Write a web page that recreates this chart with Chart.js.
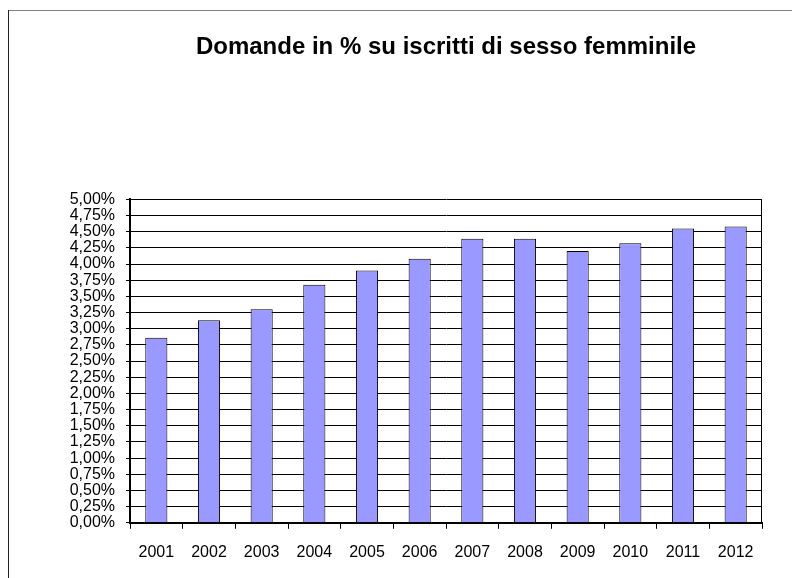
<!DOCTYPE html>
<html>
<head>
<meta charset="utf-8">
<title>Domande in % su iscritti di sesso femminile</title>
<script src="https://cdn.jsdelivr.net/npm/chart.js@4/dist/chart.umd.min.js"></script>
<style>
    body { margin: 0; background: #fff; }
    #chart { display: block; }
</style>
</head>
<body>
<canvas id="chart" width="792" height="578"></canvas>
<script>
const TITLE = "Domande in % su iscritti di sesso femminile";
const years = ["2001", "2002", "2003", "2004", "2005", "2006", "2007", "2008", "2009", "2010", "2011", "2012"];
const domande = [2.86, 3.13, 3.30, 3.68, 3.90, 4.08, 4.39, 4.39, 4.20, 4.32, 4.55, 4.58]; // % values
const yMin = 0;
const yMax = 5;
const yStep = 0.25;

// outer frame of the excel chart + right edge of the plot area
const framePlugin = {
    id: "frame",
    afterDraw(chart) {
        const ctx = chart.ctx;
        const area = chart.chartArea;
        ctx.save();
        ctx.lineWidth = 1;
        ctx.strokeStyle = "#808080";
        ctx.beginPath();
        ctx.moveTo(8, 10.5);
        ctx.lineTo(chart.width, 10.5);
        ctx.stroke();
        ctx.strokeStyle = "#222";
        ctx.beginPath();
        ctx.moveTo(8.5, 10);
        ctx.lineTo(8.5, chart.height);
        ctx.stroke();
        ctx.strokeStyle = "#000";
        ctx.beginPath();
        ctx.moveTo(area.right - 0.5, area.top);
        ctx.lineTo(area.right - 0.5, area.bottom);
        ctx.stroke();
        ctx.restore();
    }
};

function formatPct(v) {
    return v.toFixed(2).replace(".", ",") + "%";
}

function initChart() {
    const ctx = document.getElementById("chart").getContext("2d");
    new Chart(ctx, {
        type: "bar",
        data: {
            labels: years,
            datasets: [{
                label: "Domande",
                data: domande,
                backgroundColor: "#9999FF",
                borderColor: "#000",
                borderWidth: 1,
                barPercentage: 0.42,
                categoryPercentage: 1
            }]
        },
        options: {
            responsive: false,
            animation: false,
            layout: { padding: { left: 0, right: 30, top: 0, bottom: 2 } },
            scales: {
                x: {
                    grid: { drawOnChartArea: false, color: "#000", tickLength: 6, offset: true },
                    border: { color: "#000", width: 2 },
                    ticks: {
                        color: "#000",
                        padding: 14,
                        maxRotation: 0,
                        font: { family: "'Liberation Sans', Arial, sans-serif", size: 16 }
                    }
                },
                y: {
                    min: yMin,
                    max: yMax,
                    afterFit(scale) { scale.width = 130; },
                    grid: { color: "#000", lineWidth: 1, tickLength: 4 },
                    border: { color: "#000", width: 2 },
                    ticks: {
                        stepSize: yStep,
                        autoSkip: false,
                        color: "#000",
                        padding: 11,
                        font: { family: "'Liberation Sans', Arial, sans-serif", size: 16 },
                        callback: (v) => formatPct(v)
                    }
                }
            },
            plugins: {
                legend: { display: false },
                tooltip: { enabled: false },
                title: {
                    display: true,
                    text: TITLE,
                    fullSize: false,
                    color: "#000",
                    font: { family: "'Liberation Sans', Arial, sans-serif", size: 24, weight: "bold" },
                    padding: { top: 32.5, bottom: 138 }
                }
            }
        },
        plugins: [framePlugin]
    });
}

document.addEventListener("DOMContentLoaded", initChart);
</script>
</body>
</html>
